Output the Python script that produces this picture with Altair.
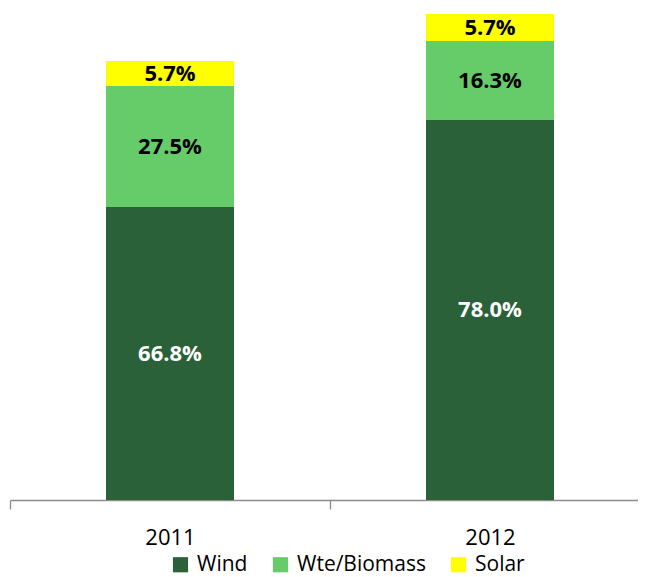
import altair as alt
import pandas as pd

years = ["2011", "2012"]
sources = ["Wind", "Wte/Biomass", "Solar"]
wind = [293, 380]
wte = [121, 79]
solar = [25, 27]
wind_lbl = ["66.8%", "78.0%"]
wte_lbl = ["27.5%", "16.3%"]
solar_lbl = ["5.7%", "5.7%"]
colors = ["#2B6139", "#66CC6A", "#FFFF00"]

rows = []
for i, y in enumerate(years):
    for k, (s, vals, lbls) in enumerate(zip(sources, [wind, wte, solar], [wind_lbl, wte_lbl, solar_lbl])):
        rows.append({"year": y, "source": s, "value": vals[i], "label": lbls[i], "ord": k})
df = pd.DataFrame(rows)

FONT = "Open Sans"

base = alt.Chart(df).transform_stack(
    stack="value", groupby=["year"], as_=["y0", "y1"], sort=[alt.SortField("ord", order="ascending")]
).transform_calculate(mid="(datum.y0 + datum.y1) / 2")

xscale = alt.Scale(paddingInner=0, paddingOuter=0, range=[0, 640])
x = alt.X("year:N", title=None, scale=xscale,
          axis=alt.Axis(labelAngle=0, labelFont=FONT, labelFontSize=22, labelColor="#000000",
                        domainColor="#8C8C8C", tickColor="#8C8C8C", tickSize=9, tickBand="extent",
                        labelPadding=18, domainWidth=1.3, tickWidth=1.3, grid=False))
yscale = alt.Scale(domain=[0, 490])

bars = base.mark_bar(width=alt.RelativeBandSize(0.4)).encode(
    x=x,
    y=alt.Y("y0:Q", scale=yscale, axis=None),
    y2="y1:Q",
    color=alt.Color("source:N", scale=alt.Scale(domain=sources, range=colors),
                    legend=alt.Legend(title=None, orient="none", direction="horizontal",
                                      legendX=160, legendY=544, symbolType="square",
                                      symbolSize=230, symbolStrokeWidth=0, symbolOpacity=1,
                                      labelFont=FONT, labelFontSize=21, labelColor="#000000",
                                      columnPadding=22, labelOffset=6, padding=0)),
)

text = base.mark_text(font=FONT, fontSize=22, fontWeight="bold").encode(
    x=alt.X("year:N", scale=xscale),
    y=alt.Y("mid:Q", scale=yscale),
    text="label:N",
    color=alt.condition(alt.datum.source == "Wind", alt.value("#FFFFFF"), alt.value("#000000")),
)

chart = alt.layer(bars, text).properties(
    width=628, height=490,
    padding={"left": 2, "top": 2, "right": 0, "bottom": 77},
    autosize=alt.AutoSizeParams(type="none"),
    background="#FFFFFF",
).configure_view(stroke=None, strokeWidth=0)

chart.save("out.html", embed_options={"renderer": "svg", "actions": False})
